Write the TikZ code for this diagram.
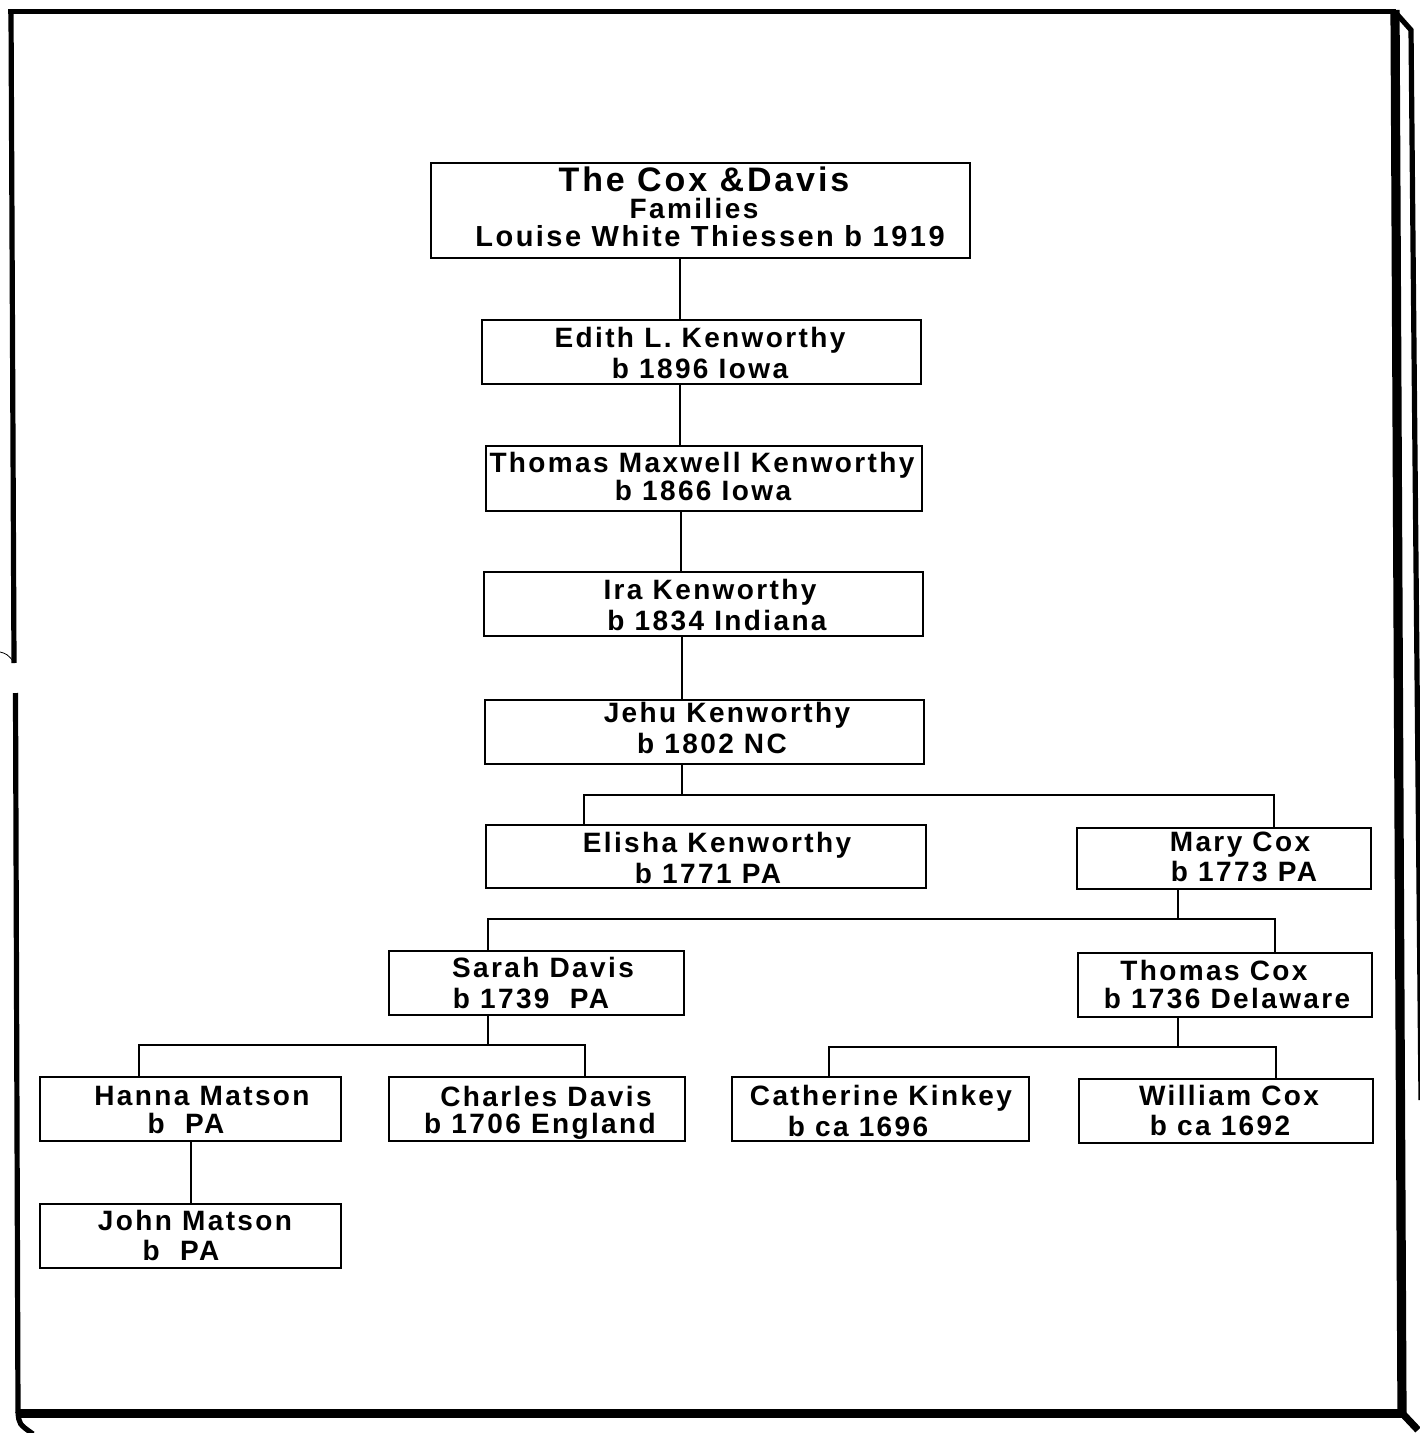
\documentclass[tikz,border=0pt]{standalone}
\usepackage{fontspec}
\setmainfont[LetterSpace=8.5]{Liberation Sans}
\newcommand\pbox[5]{\node[pbox, minimum width={(#4-#2)*0.5pt}, minimum height={(#5-#3)*0.5pt}] (#1) at ({(#2+#4)/2},{(#3+#5)/2}) {};}
\newcommand\tline[4]{\node[tline] (#1) at (#2,#3) {#4};}
\begin{document}
\begin{tikzpicture}[x=0.5pt,y=-0.5pt,
  pbox/.style={draw,line width=1.2pt,rectangle,inner sep=0pt},
  tline/.style={anchor=base,inner sep=0pt,font=\bfseries\fontsize{14}{16}\selectfont},
  link/.style={line width=1pt},
  framestyle/.style={line join=miter}]
\useasboundingbox (0,0) rectangle (1419,1433);
\fill[white] (0,0) rectangle (1419,1433);

% outer frame
\draw[framestyle,line width=2.6pt] (8,11.5) -- (1396,11.5);
\draw[framestyle,line width=2.6pt] (11,10) -- (14,663);
\draw[framestyle,line width=2.6pt] (15.5,693) -- (18,1413);
\draw[line width=0.4pt] (0,652) .. controls (7,654) .. (14,662);
\draw[framestyle,line width=4.6pt] (1395,10) -- (1402,1416);
\draw[framestyle,line width=4.6pt] (16,1413.5) -- (1404,1413.5);
\draw[framestyle,line width=2.6pt] (1395,12) -- (1411,30) -- (1421,1100);
\draw[framestyle,line width=3.6pt] (1402,1413) -- (1418,1430);
\draw[line width=2.6pt] (18,1412) .. controls (19,1424) .. (33,1434);

% boxes
\pbox{title}{431}{163}{970}{258}
\pbox{edith}{482}{320}{921}{384}
\pbox{tmk}{486}{446}{922}{511}
\pbox{ira}{484}{572}{923}{636}
\pbox{jehu}{485}{700}{924}{764}
\pbox{elisha}{486}{825}{926}{888}
\pbox{mary}{1077}{828}{1371}{889}
\pbox{sarah}{389}{951}{684}{1015}
\pbox{tcox}{1078}{953}{1372}{1017}
\pbox{hanna}{40}{1077}{341}{1141}
\pbox{charles}{389}{1077}{685}{1141}
\pbox{cath}{732}{1077}{1029}{1141}
\pbox{will}{1079}{1079}{1373}{1143}
\pbox{john}{40}{1204}{341}{1268}

% texts
\node[tline,font=\bfseries\fontsize{17}{20}\selectfont] (title-1) at (704,192) {The Cox \&Davis};
\tline{title-2}{694}{219}{Families}
\node[tline,font=\bfseries\fontsize{14.5}{17}\selectfont] (title-3) at (710,247) {Louise White Thiessen b 1919};
\tline{edith-1}{700}{348}{Edith L. Kenworthy}
\tline{edith-2}{700}{379}{b 1896 Iowa}
\tline{tmk-1}{702}{472}{Thomas Maxwell Kenworthy}
\tline{tmk-2}{703}{500}{b 1866 Iowa}
\tline{ira-1}{710}{599}{Ira Kenworthy}
\tline{ira-2}{717}{630}{b 1834 Indiana}
\tline{jehu-1}{727}{722}{Jehu Kenworthy}
\tline{jehu-2}{712}{753}{b 1802 NC}
\tline{elisha-1}{717}{852}{Elisha Kenworthy}
\tline{elisha-2}{708}{883}{b 1771 PA}
\tline{mary-1}{1240}{851}{Mary Cox}
\tline{mary-2}{1244}{881}{b 1773 PA}
\tline{sarah-1}{543}{977}{Sarah Davis}
\tline{sarah-2}{531}{1008}{b 1739~~PA}
\tline{tcox-1}{1214}{980}{Thomas Cox}
\tline{tcox-2}{1227}{1008}{b 1736 Delaware}
\tline{hanna-1}{202}{1105}{Hanna Matson}
\tline{hanna-2}{186}{1133}{b~~PA}
\tline{charles-1}{546}{1106}{Charles Davis}
\tline{charles-2}{540}{1133}{b 1706 England}
\tline{cath-1}{881}{1105}{Catherine Kinkey}
\tline{cath-2}{858}{1136}{b ca 1696}
\tline{will-1}{1229}{1105}{William Cox}
\tline{will-2}{1220}{1135}{b ca 1692}
\tline{john-1}{195}{1230}{John Matson}
\tline{john-2}{181}{1260}{b~~PA}

% connectors
\coordinate (c1) at (680,0);
\coordinate (c2) at (680,0);
\coordinate (c3) at (681,0);
\coordinate (c4) at (682,0);
\draw[link] (title.south -| c1) -- (edith.north -| c1);
\draw[link] (edith.south -| c2) -- (tmk.north -| c2);
\draw[link] (tmk.south -| c3) -- (ira.north -| c3);
\draw[link] (ira.south -| c4) -- (jehu.north -| c4);

\coordinate (b1) at (682,795);
\coordinate (b1L) at (584,795);
\coordinate (b1R) at (1274,795);
\draw[link] (jehu.south -| b1) -- (b1);
\draw[link] (elisha.north -| b1L) |- (b1R) -- (mary.north -| b1R);

\coordinate (b2) at (1178,919);
\coordinate (b2L) at (488,919);
\coordinate (b2R) at (1275,919);
\draw[link] (mary.south -| b2) -- (b2);
\draw[link] (sarah.north -| b2L) |- (b2R) -- (tcox.north -| b2R);

\coordinate (b3) at (488,1045);
\coordinate (b3L) at (139,1045);
\coordinate (b3R) at (585,1045);
\draw[link] (sarah.south -| b3) -- (b3);
\draw[link] (hanna.north -| b3L) |- (b3R) -- (charles.north -| b3R);

\coordinate (b4) at (1178,1047);
\coordinate (b4L) at (829,1047);
\coordinate (b4R) at (1276,1047);
\draw[link] (tcox.south -| b4) -- (b4);
\draw[link] (cath.north -| b4L) |- (b4R) -- (will.north -| b4R);

\draw[link] (hanna.south) -- (john.north);
\end{tikzpicture}
\end{document}
